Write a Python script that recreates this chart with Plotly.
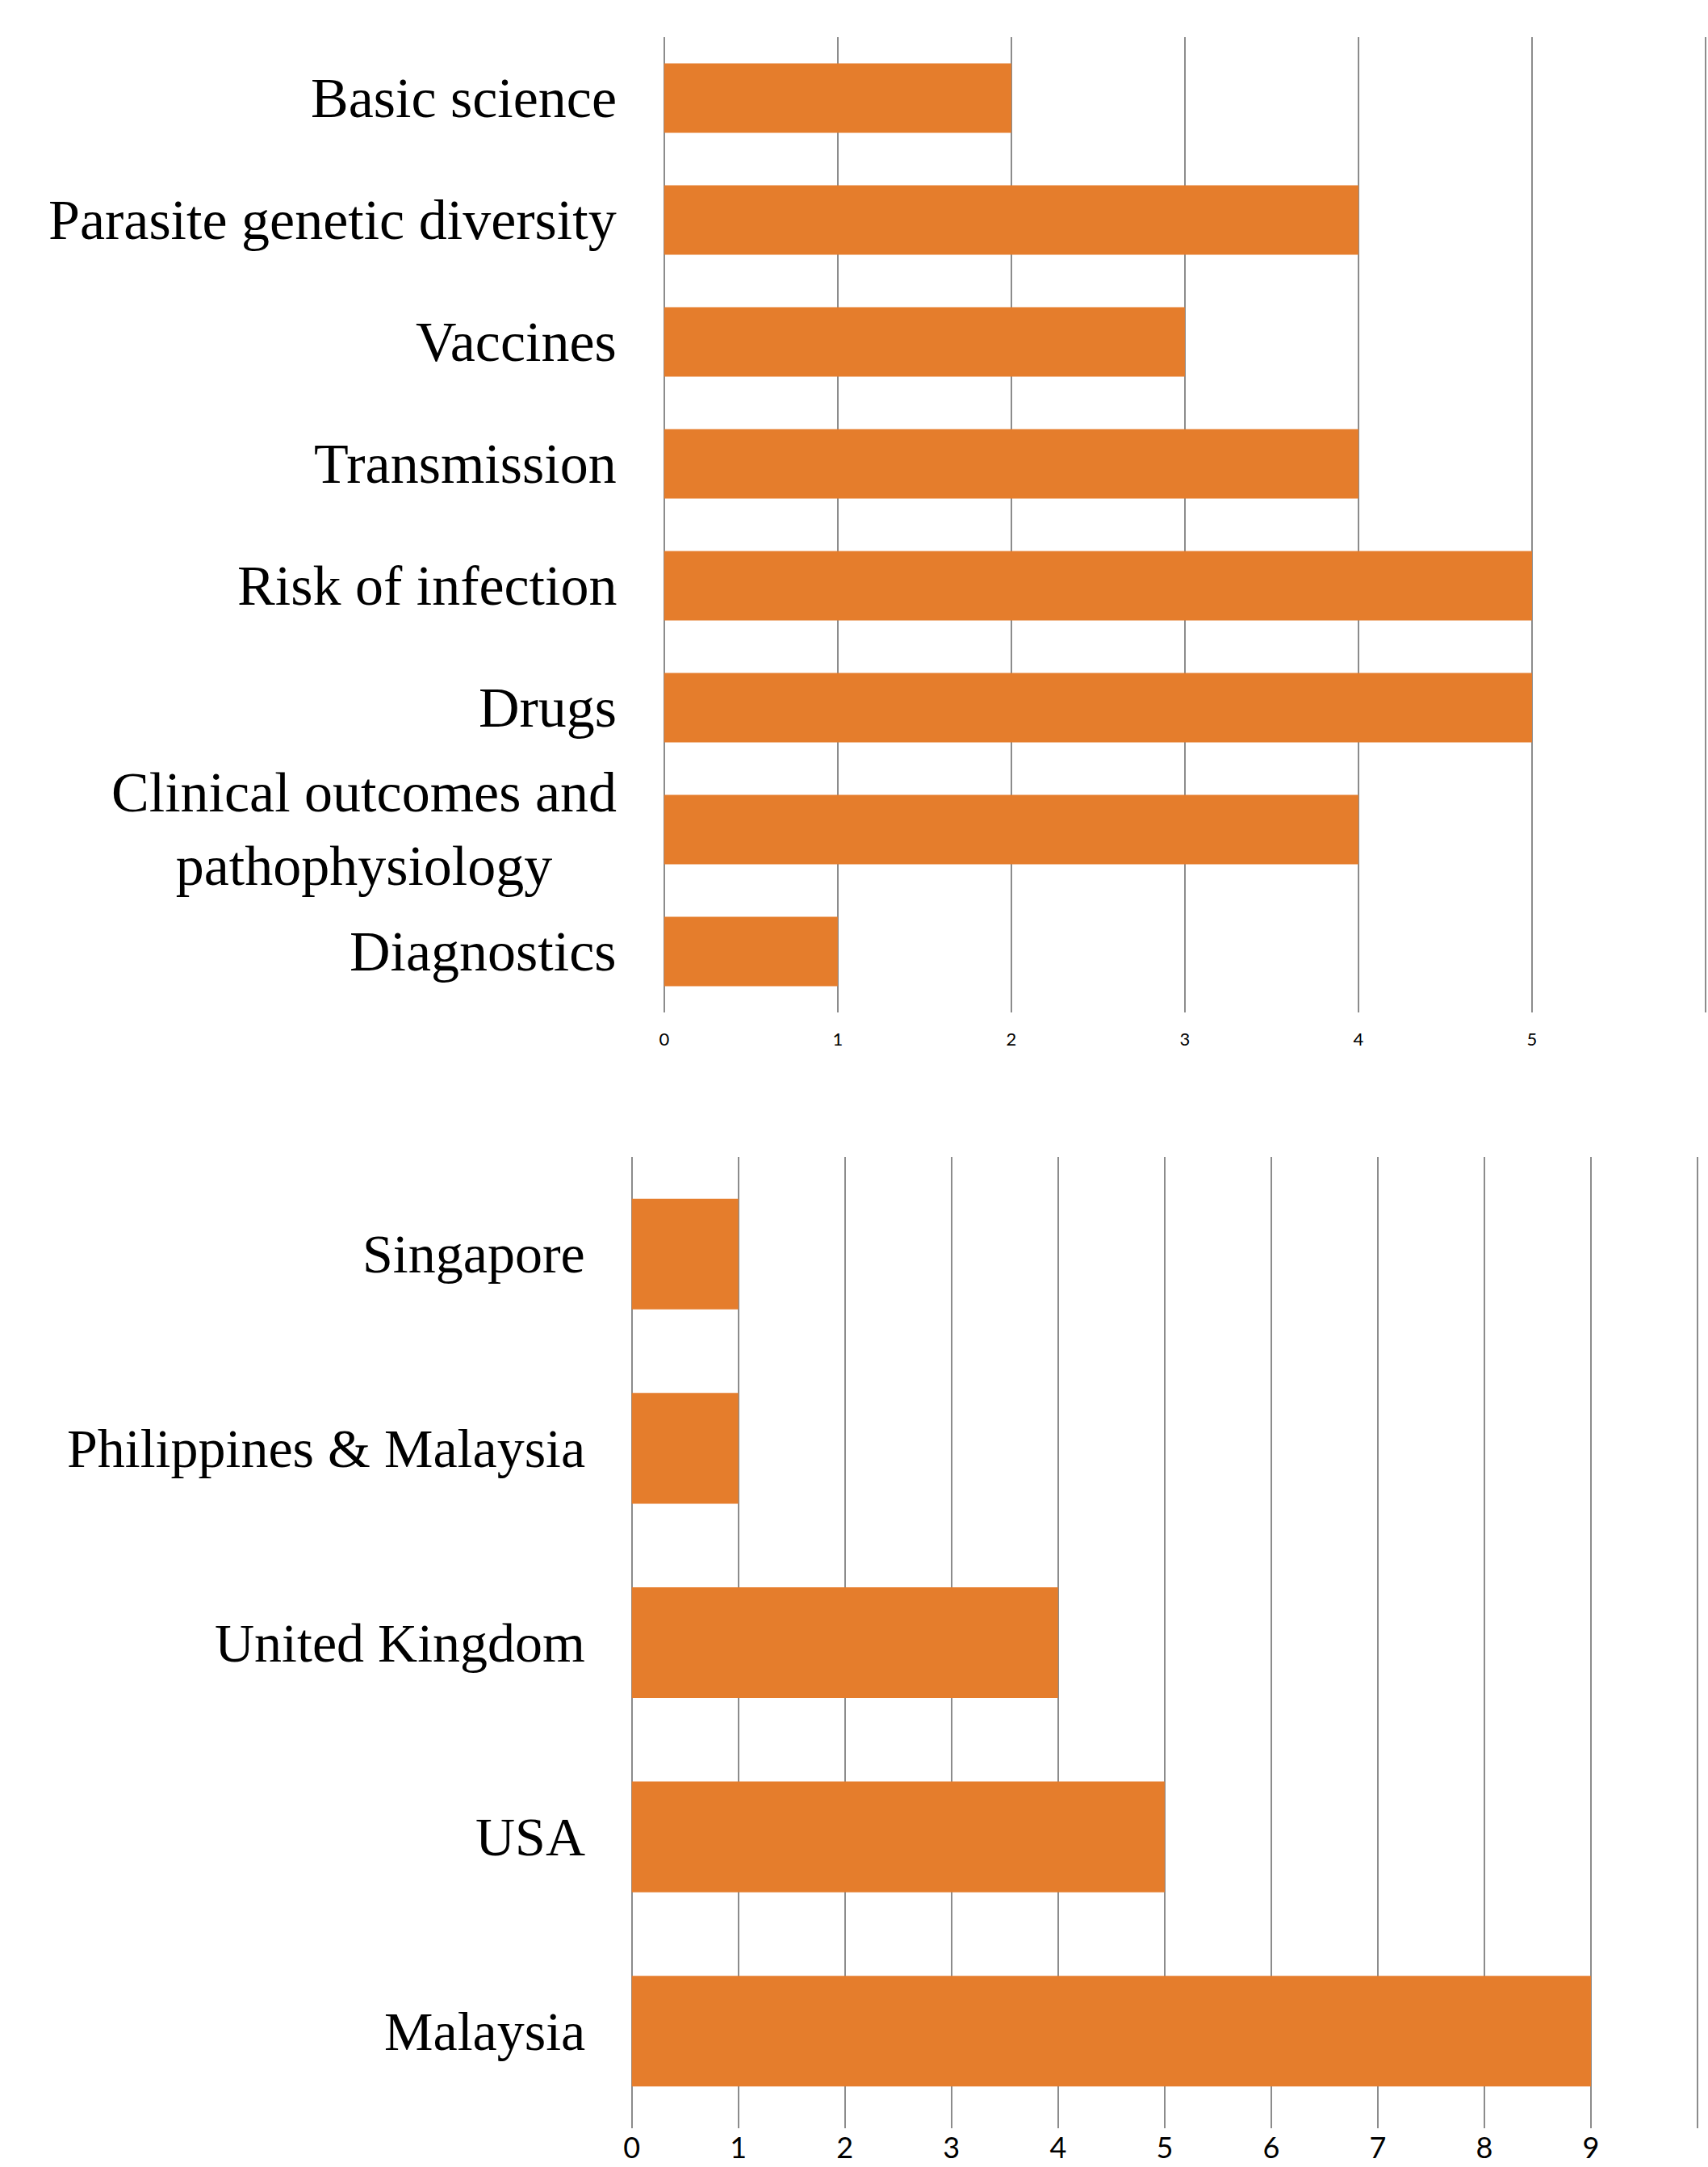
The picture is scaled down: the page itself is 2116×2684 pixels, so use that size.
import plotly.graph_objects as go

# Top chart: research topics
topics = ["Basic science", "Parasite genetic diversity", "Vaccines", "Transmission",
          "Risk of infection", "Drugs", "Clinical outcomes and<br>pathophysiology", "Diagnostics"]
topic_counts = [2, 4, 3, 4, 5, 5, 4, 1]
topic_ticks = [0, 1, 2, 3, 4, 5, 6]

# Bottom chart: countries
countries = ["Singapore", "Philippines & Malaysia", "United Kingdom", "USA", "Malaysia"]
country_counts = [1, 1, 4, 5, 9]
country_ticks = [0, 1, 2, 3, 4, 5, 6, 7, 8, 9, 10]

BAR = "#E57D2C"
GRID = "#8C8C8C"
W, H = 2116, 2684
PAD = 0.01  # small range padding so edge gridlines are drawn


def domain_for(px0, px_max, vmax):
    unit = (px_max - px0) / vmax
    return [(px0 - PAD * unit) / W, (px_max + PAD * unit) / W]


top_zero_px, top_max_px = 817.3, 2113.0
bot_zero_px, bot_max_px = 777.0, 2103.0
top_dom_x = domain_for(top_zero_px, top_max_px, topic_ticks[-1])
bot_dom_x = domain_for(bot_zero_px, bot_max_px, country_ticks[-1])
top_dom_y = [1 - 1254 / H, 1 - 46 / H]
bot_dom_y = [1 - 2636 / H, 1 - 1433 / H]

fig = go.Figure()
fig.add_trace(go.Bar(x=topic_counts, y=topics, orientation="h", marker=dict(color=BAR, line=dict(width=0)),
                     xaxis="x", yaxis="y", showlegend=False))
fig.add_trace(go.Bar(x=country_counts, y=countries, orientation="h", marker=dict(color=BAR, line=dict(width=0)),
                     xaxis="x2", yaxis="y2", showlegend=False))

fig.update_layout(
    width=W, height=H, margin=dict(l=0, r=0, t=0, b=0),
    paper_bgcolor="white", plot_bgcolor="white",
    bargap=0.43,
    xaxis=dict(domain=top_dom_x, anchor="y", range=[-PAD, topic_ticks[-1] + PAD], tickvals=topic_ticks,
               showgrid=True, gridcolor=GRID, gridwidth=1.5, zeroline=False, showline=False,
               tickfont=dict(family="Lato", size=22, color="#000000"), ticklabelstandoff=18),
    yaxis=dict(domain=top_dom_y, anchor="x", autorange="reversed", showticklabels=False,
               showgrid=False, zeroline=False, showline=False),
    xaxis2=dict(domain=bot_dom_x, anchor="y2", range=[-PAD, country_ticks[-1] + PAD], tickvals=country_ticks,
                showgrid=True, gridcolor=GRID, gridwidth=1.5, zeroline=False, showline=False,
                tickfont=dict(family="Lato", size=36, color="#000000"), ticklabelstandoff=0),
    yaxis2=dict(domain=bot_dom_y, anchor="x2", autorange="reversed", showticklabels=False,
                showgrid=False, zeroline=False, showline=False),
)

annotations = []
for t in topics:
    annotations.append(dict(xref="paper", yref="y", x=top_zero_px / W, y=t, xanchor="right", yanchor="middle",
                            xshift=-57, text=t, showarrow=False, align="center",
                            font=dict(family="Liberation Serif", size=70, color="#000000")))
for c in countries:
    annotations.append(dict(xref="paper", yref="y2", x=bot_zero_px / W, y=c, xanchor="right", yanchor="middle",
                            xshift=-56, text=c, showarrow=False, align="center",
                            font=dict(family="Liberation Serif", size=68, color="#000000")))
fig.update_layout(annotations=annotations)

fig.write_html("out.html", config={"displayModeBar": False},
               post_script="document.body.style.margin='0';")
